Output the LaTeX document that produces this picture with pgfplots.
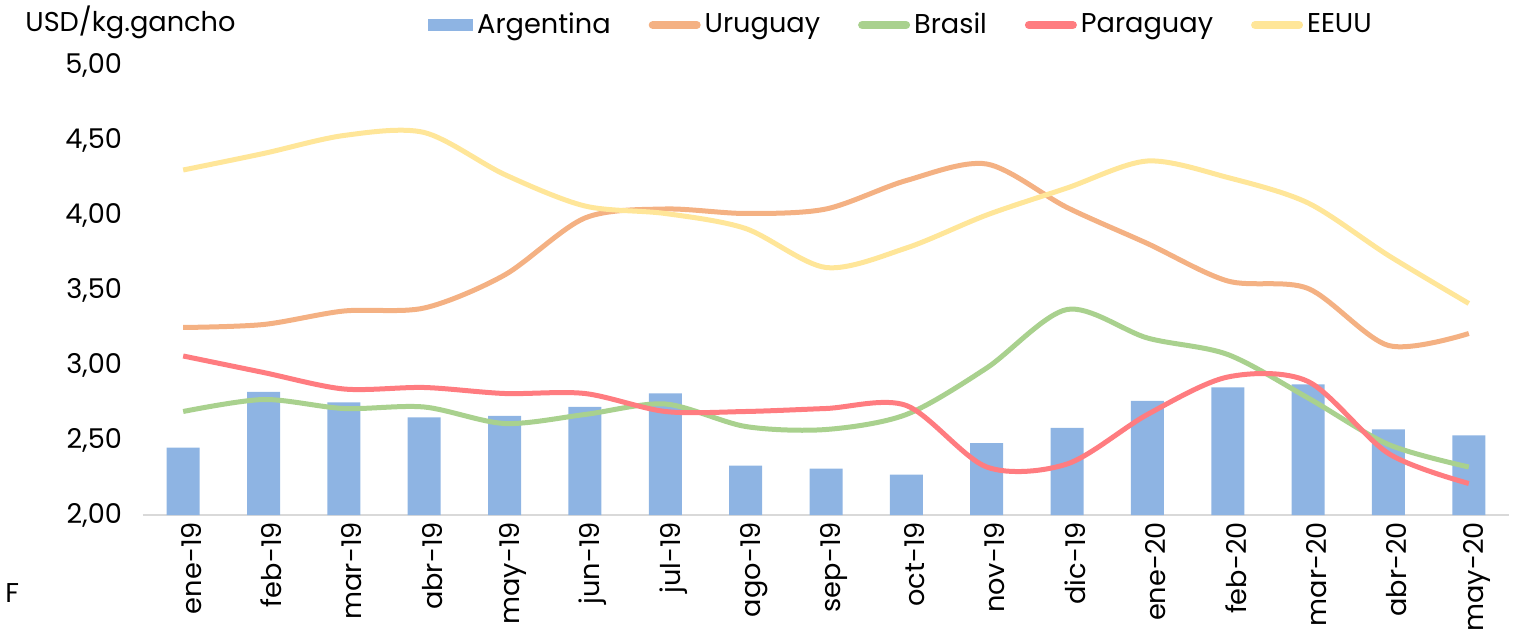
\documentclass[border=0pt]{standalone}
\usepackage{fontspec}
\setmainfont{Poppins}
\usepackage{pgfplots}
\pgfplotsset{compat=1.18}

\definecolor{arg}{HTML}{8EB4E3}
\definecolor{uru}{HTML}{F4B183}
\definecolor{bra}{HTML}{A9D18E}
\definecolor{par}{HTML}{FF7C80}
\definecolor{usa}{HTML}{FFE699}
\newcommand\cf{\fontsize{13.6}{16}\selectfont}

\begin{document}
\begin{tikzpicture}
\useasboundingbox (-71.5pt,-58.5pt) rectangle (686.5pt,257.5pt);
\begin{axis}[
  at={(0,0)}, anchor=south west,
  width=683pt, height=225pt, scale only axis,
  xmin=-0.5, xmax=16.5,
  ymin=2, ymax=5,
  ytick={2,2.5,...,5},
  xtick={0,1,...,16},
  xticklabels={ene-19,feb-19,mar-19,abr-19,may-19,jun-19,jul-19,ago-19,sep-19,oct-19,nov-19,dic-19,ene-20,feb-20,mar-20,abr-20,may-20},
  x tick label style={rotate=90, anchor=east, yshift=-4pt},
  y tick label style={xshift=-7pt},
  tick label style={font=\cf},
  /pgf/number format/.cd, use comma, fixed, fixed zerofill, precision=2, assume math mode=true,
  /pgfplots/.cd,
  major tick length=0pt,
  axis x line=bottom, axis y line=left,
  x axis line style={-, draw=black!15, line width=1pt},
  y axis line style={draw=none},
  legend columns=5,
  legend style={draw=none, fill=none, font=\cf, at={(0.5556,1.0889)}, anchor=center,
    /tikz/every even column/.append style={column sep=17pt}},
  legend cell align=left,
]
% Argentina (bars)
\addplot[ybar, bar width=16.5pt, bar shift=0pt, fill=arg, draw=none,
  legend image code/.code={\fill[arg] (0pt,-3pt) rectangle (22.5pt,3pt);}]
  coordinates {
  (0,2.45) (1,2.82) (2,2.75) (3,2.65) (4,2.66) (5,2.72) (6,2.81) (7,2.33) (8,2.31)
  (9,2.27) (10,2.48) (11,2.58) (12,2.76) (13,2.85) (14,2.87) (15,2.57) (16,2.53)};
\addlegendentry{Argentina}
% Uruguay
\addplot[uru, line width=2.5pt, smooth, tension=0.5,
  legend image code/.code={\draw[uru, line width=4pt, line cap=round] (1pt,0pt) -- (23pt,0pt);}]
  coordinates {
  (0,3.25) (1,3.27) (2,3.36) (3,3.38) (4,3.60) (5,3.98) (6,4.04) (7,4.01) (8,4.04)
  (9,4.23) (10,4.34) (11,4.05) (12,3.81) (13,3.56) (14,3.51) (15,3.13) (16,3.21)};
\addlegendentry{Uruguay}
% Brasil
\addplot[bra, line width=2.5pt, smooth, tension=0.5,
  legend image code/.code={\draw[bra, line width=4pt, line cap=round] (1pt,0pt) -- (23pt,0pt);}]
  coordinates {
  (0,2.69) (1,2.77) (2,2.71) (3,2.72) (4,2.61) (5,2.67) (6,2.74) (7,2.59) (8,2.57)
  (9,2.67) (10,2.98) (11,3.37) (12,3.18) (13,3.07) (14,2.78) (15,2.47) (16,2.32)};
\addlegendentry{Brasil}
% Paraguay
\addplot[par, line width=2.5pt, smooth, tension=0.5,
  legend image code/.code={\draw[par, line width=4pt, line cap=round] (1pt,0pt) -- (23pt,0pt);}]
  coordinates {
  (0,3.06) (1,2.95) (2,2.84) (3,2.85) (4,2.81) (5,2.81) (6,2.69) (7,2.69) (8,2.71)
  (9,2.73) (10,2.32) (11,2.34) (12,2.67) (13,2.92) (14,2.89) (15,2.41) (16,2.21)};
\addlegendentry{Paraguay}
% EEUU
\addplot[usa, line width=2.5pt, smooth, tension=0.5,
  legend image code/.code={\draw[usa, line width=4pt, line cap=round] (1pt,0pt) -- (23pt,0pt);}]
  coordinates {
  (0,4.30) (1,4.41) (2,4.53) (3,4.55) (4,4.27) (5,4.06) (6,4.01) (7,3.91) (8,3.65)
  (9,3.78) (10,4.00) (11,4.18) (12,4.36) (13,4.25) (14,4.08) (15,3.73) (16,3.41)};
\addlegendentry{EEUU}
\end{axis}
\node[anchor=base west, inner sep=0pt, font=\cf] at (-59pt,241.5pt) {USD/kg.gancho};
\node[anchor=base west, inner sep=0pt, font=\cf] at (-69pt,-43.5pt) {F};
\end{tikzpicture}
\end{document}
